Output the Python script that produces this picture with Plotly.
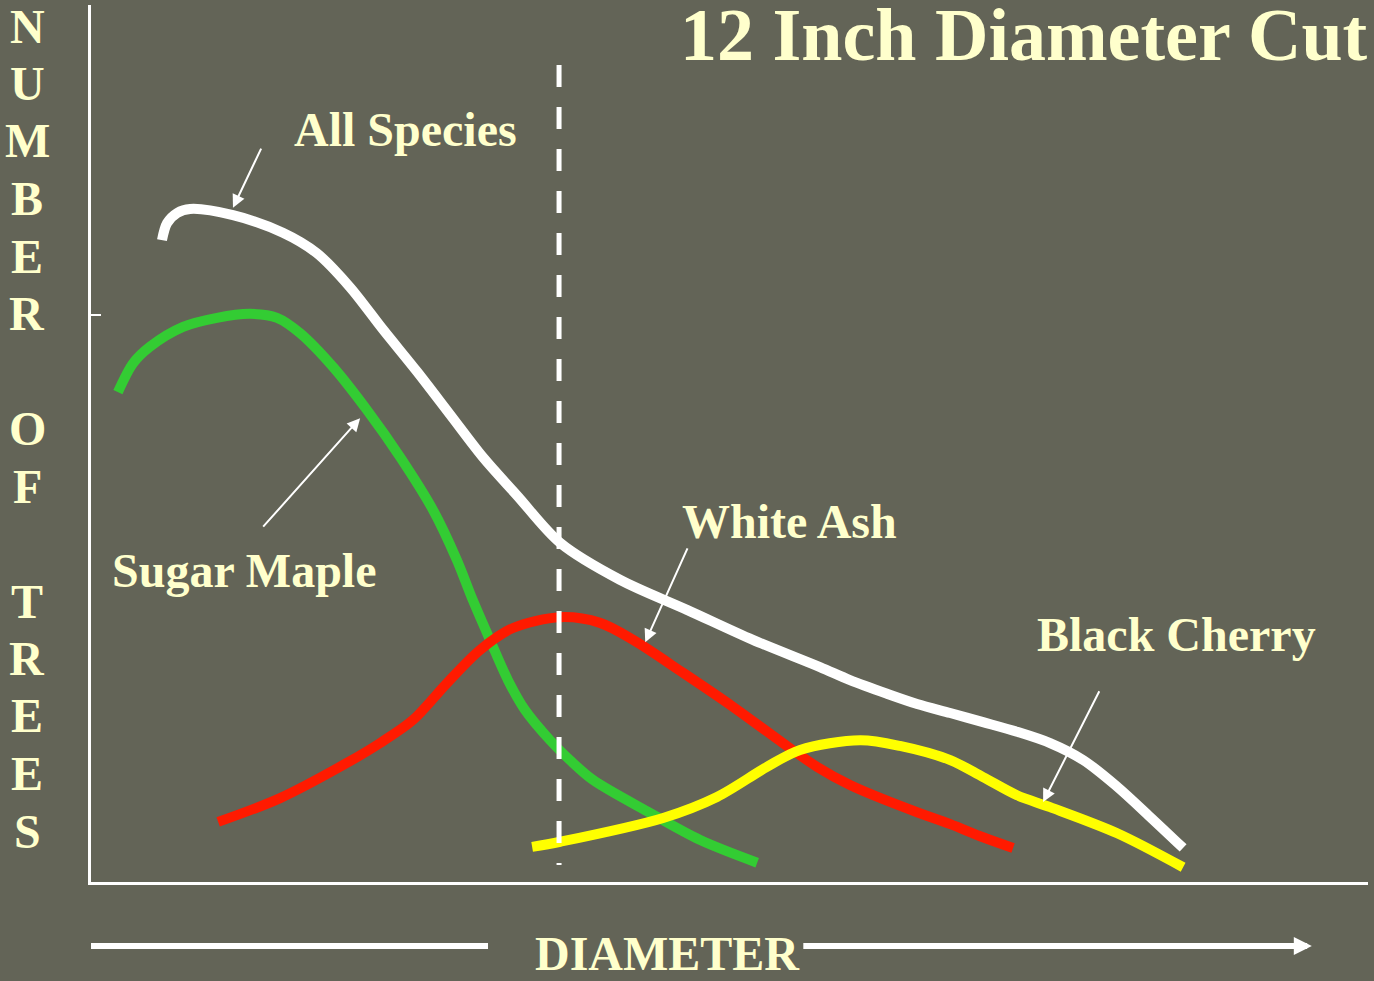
import plotly.graph_objects as go

# ---- data (diameter in inches, number of trees in arbitrary units) ----
diam_all = [1.82, 1.95, 2.21, 2.54, 3.64, 4.92, 5.79, 6.64, 7.49, 8.36, 9.21, 10.05, 10.92, 12.03,
            13.56, 15.28, 16.97, 18.69, 19.46, 20.41, 21.18, 22.03, 22.87, 23.74, 24.59, 25.44,
            26.31, 27.15, 28.0]
trees_all = [113.2, 116.2, 118.0, 118.7, 117.6, 114.5, 110.9, 104.9, 97.4, 90.0, 82.4, 74.9, 68.2, 59.8,
             53.3, 48.0, 42.7, 37.9, 35.6, 33.2, 31.4, 29.8, 28.2, 26.5, 24.5, 21.5,
             16.8, 11.5, 6.0]

diam_maple = [0.69, 1.08, 1.51, 2.36, 3.23, 4.08, 4.77, 5.36, 6.21, 7.08, 7.92, 8.77, 9.38, 9.79,
              10.23, 10.69, 11.13, 11.77, 12.28, 12.87, 14.33, 15.62, 17.08]
trees_maple = [86.4, 91.5, 94.4, 97.9, 99.5, 100.2, 99.5, 96.8, 90.8, 83.2, 75.0, 65.6, 56.8, 49.7,
               42.7, 35.6, 30.3, 25.0, 21.5, 18.0, 12.2, 7.4, 3.4]

diam_ash = [3.26, 4.85, 6.56, 7.41, 8.26, 9.13, 9.97, 10.82, 12.03, 13.05, 13.90, 15.18, 16.46, 17.74,
            18.62, 19.46, 20.31, 21.18, 22.03, 22.87, 23.64]
trees_ash = [10.6, 14.8, 21.0, 24.5, 28.6, 35.1, 40.9, 44.8, 46.7, 45.7, 42.7, 36.9, 30.9, 24.5,
             20.3, 17.1, 14.6, 12.3, 10.2, 7.9, 6.0]

diam_cherry = [11.31, 12.03, 14.67, 16.05, 17.33, 18.18, 19.72, 20.74, 22.03, 22.87, 23.74, 24.59,
               26.31, 28.0]
trees_cherry = [6.2, 7.1, 11.3, 15.0, 20.3, 23.3, 25.0, 24.0, 21.5, 18.5, 15.3, 13.2, 8.6, 2.6]

cut_diameter = 12
cut_top = 144.1
cut_bottom = 3.0

title_text = "12 Inch Diameter Cut"
y_title = "NUMBER OF TREES"
x_title = "DIAMETER"

# label: (text, x_left, y_center, arrow_tail_x, arrow_tail_y, arrow_head_x, arrow_head_y)
labels = [
    ("All Species", 5.15, 132.7, 4.38, 129.6, 3.64, 118.9),
    ("Sugar Maple", 0.49, 54.9, 4.38, 62.4, 6.90, 81.8),
    ("White Ash", 15.10, 63.6, 15.31, 59.1, 14.21, 42.3),
    ("Black Cherry", 24.21, 43.6, 25.87, 33.9, 24.41, 14.1),
]

BG = "#636457"
CREAM = "#FFFFCC"
FONT = "Liberation Serif"

fig = go.Figure()
series = [
    (diam_all, trees_all, "#FFFFFF"),
    (diam_maple, trees_maple, "#33CC33"),
    (diam_ash, trees_ash, "#FF1A00"),
    (diam_cherry, trees_cherry, "#FFFF00"),
]
for xs, ys, col in series:
    fig.add_trace(go.Scatter(x=xs, y=ys, mode="lines",
                             line=dict(color=col, width=10, shape="spline", smoothing=0.9),
                             hoverinfo="skip", showlegend=False))

# cut line
fig.add_shape(type="line", xref="x", yref="y", x0=cut_diameter, x1=cut_diameter,
              y0=cut_top, y1=cut_bottom, line=dict(color="white", width=5, dash="22px,20px"))

annotations = []
for text, xl, yc, tx, ty, hx, hy in labels:
    annotations.append(dict(x=xl, y=yc, xref="x", yref="y", text="<b>%s</b>" % text, showarrow=False,
                            xanchor="left", yanchor="middle",
                            font=dict(family=FONT, size=48, color=CREAM)))
    annotations.append(dict(x=hx, y=hy, ax=tx, ay=ty, xref="x", yref="y", axref="x", ayref="y",
                            text="", showarrow=True, arrowhead=2, arrowsize=1.3, arrowwidth=2,
                            arrowcolor="white"))

# title
annotations.append(dict(x=1.0, y=0.9663, xref="paper", yref="paper", text="<b>%s</b>" % title_text,
                        showarrow=False, xanchor="right", yanchor="middle", xshift=2,
                        font=dict(family=FONT, size=74, color=CREAM)))

# vertical y title, one letter per row
for i, ch in enumerate(y_title):
    if ch == " ":
        continue
    py = 26 + 57.5 * i
    annotations.append(dict(x=-0.0501, y=(882 - py) / 877, xref="paper", yref="paper",
                            text="<b>%s</b>" % ch, showarrow=False, xanchor="center", yanchor="middle",
                            font=dict(family=FONT, size=48, color=CREAM)))

# x title
annotations.append(dict(x=0.4518, y=-0.081, xref="paper", yref="paper", text="<b>%s</b>" % x_title,
                        showarrow=False, xanchor="center", yanchor="middle",
                        font=dict(family=FONT, size=48, color=CREAM)))
# x direction arrow
fig.add_shape(type="line", xref="paper", yref="paper", x0=0.0, x1=0.3109, y0=-0.073, y1=-0.073,
              line=dict(color="white", width=6))
annotations.append(dict(x=0.956, y=-0.073, ax=-510, ay=0, xref="paper", yref="paper",
                        axref="pixel", ayref="pixel", text="", showarrow=True, arrowhead=2,
                        arrowsize=0.6, arrowwidth=6, arrowcolor="white"))

fig.update_layout(
    width=1374, height=981,
    margin=dict(l=91, r=6, t=5, b=99),
    paper_bgcolor=BG, plot_bgcolor=BG,
    annotations=annotations,
    xaxis=dict(range=[0, 32.74], showgrid=False, zeroline=False, showticklabels=False,
               showline=True, linecolor="white", linewidth=3, ticks=""),
    yaxis=dict(range=[0, 154.67], showgrid=False, zeroline=False, showticklabels=False,
               showline=True, linecolor="white", linewidth=3, ticks="inside", tickvals=[100],
               ticklen=10, tickwidth=1.5, tickcolor="white"),
)

fig.write_html("out.html", config={"displayModeBar": False},
               post_script="document.body.style.margin='0';document.body.style.overflow='hidden';"
                           "document.body.style.background='%s';" % BG)
